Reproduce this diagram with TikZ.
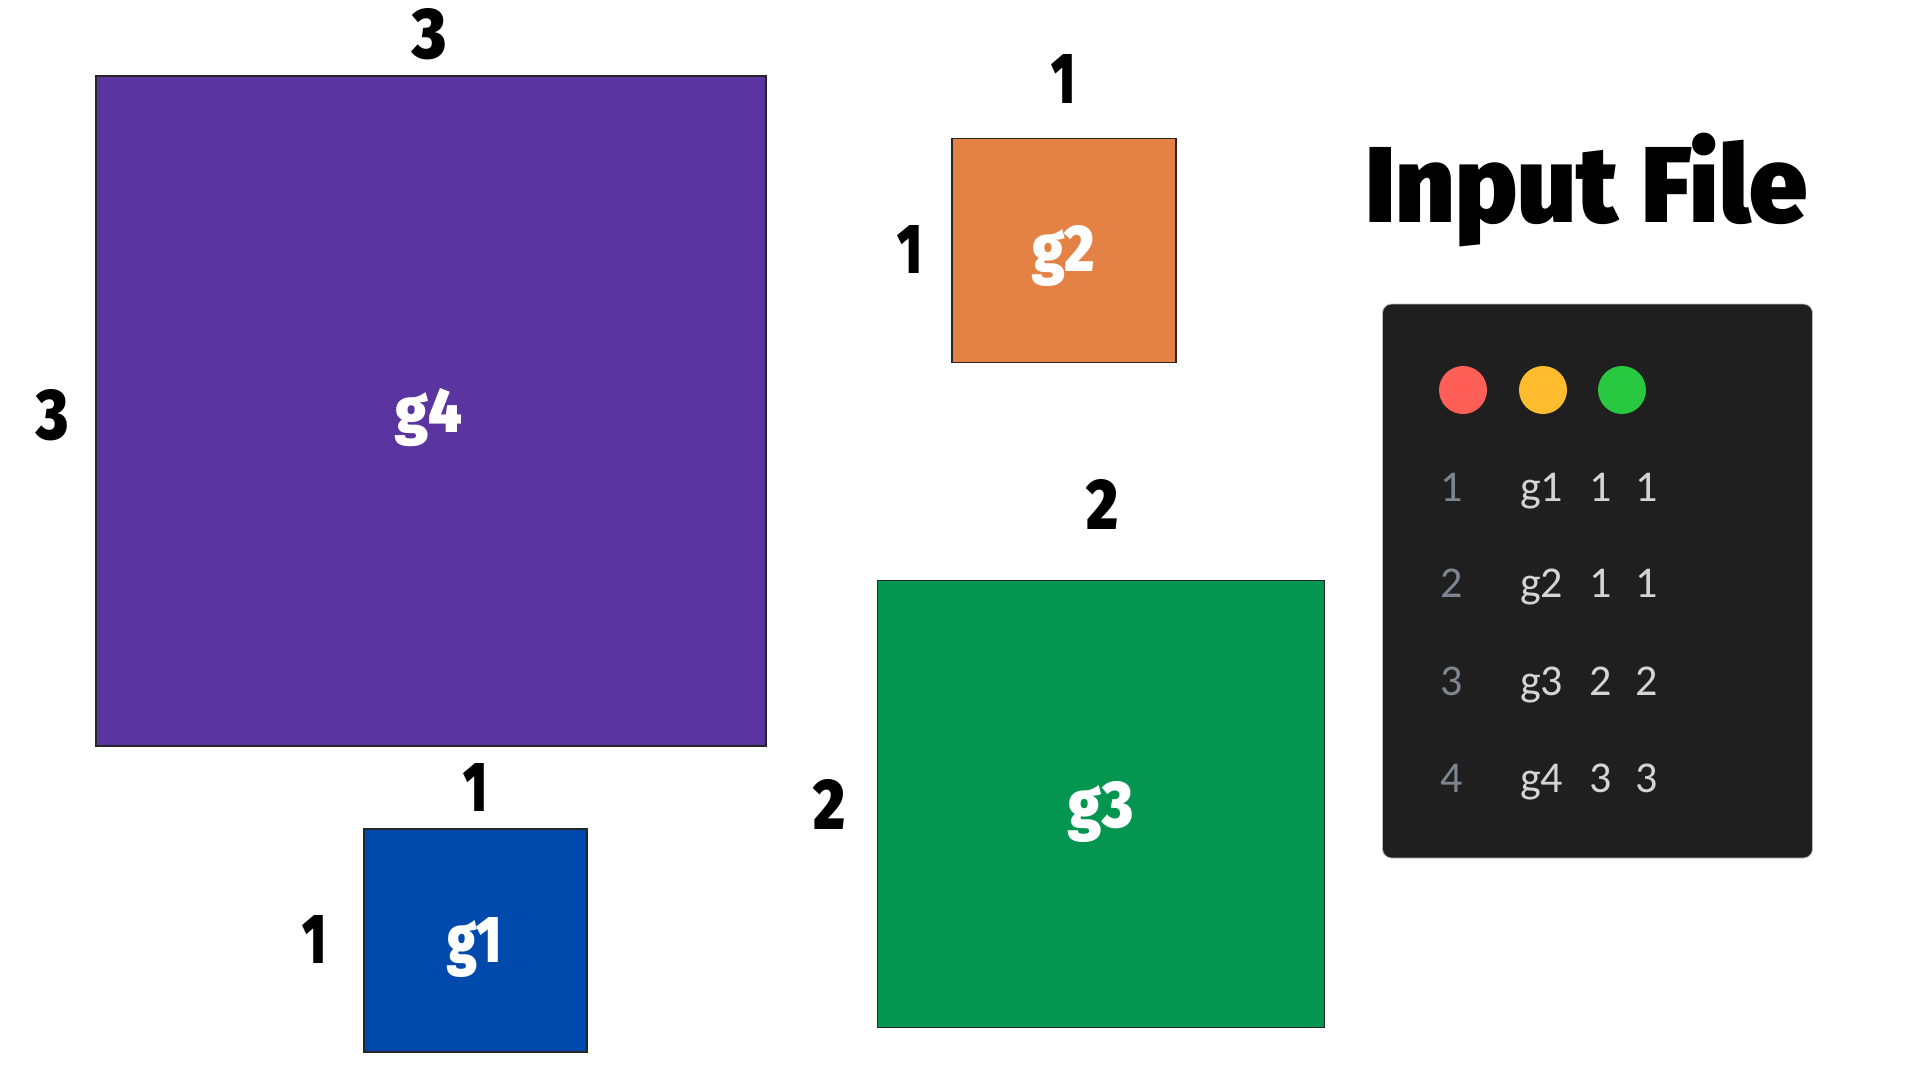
\documentclass[tikz,border=0pt]{standalone}
\usepackage{graphicx}
\usepackage{fontspec}
\IfFontExistsTF{Fira Sans Black}{\newfontfamily\heavyfont{Fira Sans Black}}{\newfontfamily\heavyfont{Fira Sans}[UprightFont={* Bold}]}
\newfontfamily\codefont{Carlito}
\definecolor{cpurple}{HTML}{5A35A0}
\definecolor{corange}{HTML}{E38244}
\definecolor{cgreen}{HTML}{049551}
\definecolor{cblue}{HTML}{004AAD}
\definecolor{panelbg}{HTML}{1F1F1F}
\definecolor{codetxt}{HTML}{D4D4D4}
\definecolor{lnum}{HTML}{7D8590}
\definecolor{dred}{HTML}{FF5F57}
\definecolor{dyellow}{HTML}{FEBC2E}
\definecolor{dgreen}{HTML}{28C840}
\newcommand\fitlab[3]{\resizebox{#1pt}{#2pt}{\heavyfont #3}}
\tikzset{
  sq/.style={draw=black!85, line width=1.3pt, inner sep=0pt, minimum width=#1pt, minimum height=#1pt},
  lab/.style={inner sep=0pt, anchor=base, text=black},
  inlab/.style={inner sep=0pt, anchor=base, text=white},
  code/.style={inner sep=0pt, anchor=base west, font=\codefont\fontsize{44}{44}\selectfont, text=codetxt},
  lnumstyle/.style={code, text=lnum},
  dot/.style={circle, inner sep=0pt, minimum size=48pt}
}
\begin{document}
\begin{tikzpicture}[x=1pt,y=-1pt]
\useasboundingbox (0,0) rectangle (1920,1080);
% squares
\node[sq=670, fill=cpurple] (g4) at (431,411) {};
\node[sq=224, fill=corange] (g2) at (1064,250.5) {};
\node[sq=447, fill=cgreen] (g3) at (1101,804) {};
\node[sq=223, fill=cblue] (g1) at (475.5,940.5) {};
% inner labels
\node[inlab] (g4name) at (429,432) {\fitlab{66}{44}{g4}};
\node[inlab] (g2name) at (1063.5,271) {\fitlab{63}{46}{g2}};
\node[inlab] (g3name) at (1101,827) {\fitlab{64}{46}{g3}};
\node[inlab] (g1name) at (474.5,962) {\fitlab{55}{45}{g1}};
% dimension labels
\node[lab] (g4top) at (430,58) {\fitlab{34}{50}{3}};
\node[lab] (g4left) at (53,439) {\fitlab{32}{50}{3}};
\node[lab] (g2top) at (1063,103) {\fitlab{24}{49}{1}};
\node[lab] (g2left) at (909.5,273) {\fitlab{25}{48}{1}};
\node[lab] (g3top) at (1102,529) {\fitlab{32}{50}{2}};
\node[lab] (g3left) at (830,829) {\fitlab{32}{50}{2}};
\node[lab] (g1top) at (475,811) {\fitlab{24}{48}{1}};
\node[lab] (g1left) at (314,963) {\fitlab{24}{48}{1}};
% title
\node[lab] (title) at (1586.5,222) {\resizebox{443pt}{75pt}{\heavyfont\smash{Input File}\vphantom{I}}};
% code panel
\node[draw=gray!55, line width=0.8pt, fill=panelbg, rounded corners=9pt, inner sep=0pt,
      minimum width=430pt, minimum height=554pt] (panel) at (1597.5,581) {};
\node[dot, fill=dred] (dotr) at (1463,390) {};
\node[dot, fill=dyellow] (doty) at (1543,390) {};
\node[dot, fill=dgreen] (dotg) at (1622,390) {};
% code lines
\node[lnumstyle] (n1) at (1440,501) {1};
\node[code] (c1a) at (1520,501) {g1};
\node[code] (c1b) at (1589,501) {1};
\node[code] (c1c) at (1635,501) {1};
\node[lnumstyle] (n2) at (1440,597) {2};
\node[code] (c2a) at (1520,597) {g2};
\node[code] (c2b) at (1589,597) {1};
\node[code] (c2c) at (1635,597) {1};
\node[lnumstyle] (n3) at (1440,695) {3};
\node[code] (c3a) at (1520,695) {g3};
\node[code] (c3b) at (1589,695) {2};
\node[code] (c3c) at (1635,695) {2};
\node[lnumstyle] (n4) at (1440,792) {4};
\node[code] (c4a) at (1520,792) {g4};
\node[code] (c4b) at (1589,792) {3};
\node[code] (c4c) at (1635,792) {3};
\end{tikzpicture}
\end{document}
